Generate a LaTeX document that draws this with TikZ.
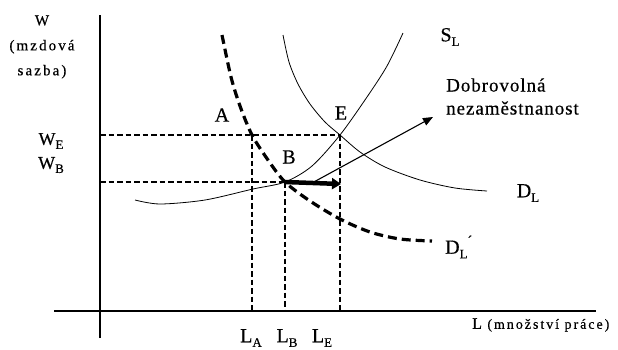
\documentclass[tikz,border=0pt]{standalone}
\usepackage{fontspec}
\setmainfont{Liberation Serif}[FakeBold=0.5]
\newfontfamily\axisfont{Liberation Serif}[LetterSpace=14,FakeBold=0.4]
\newfontfamily\notefont{Liberation Serif}[LetterSpace=5,FakeBold=0.5]
\usetikzlibrary{arrows.meta,positioning}
\newcommand\lsub[1]{\raisebox{-0.5ex}{\fontsize{13}{13}\selectfont #1}}

\begin{document}
\begin{tikzpicture}[
  x=1pt,y=-1pt,
  lbl/.style={inner sep=0pt,font=\fontsize{20}{22}\selectfont},
  wlbl/.style={inner sep=0pt,font=\fontsize{18}{20}\selectfont},
  small/.style={inner sep=0pt,align=center,font=\axisfont\fontsize{15}{25}\selectfont},
  note/.style={inner sep=0pt,anchor=west,font=\notefont\fontsize{19}{21}\selectfont},
  axis/.style={line width=1.4pt},
  guide/.style={line width=1.7pt,dash pattern=on 5.5pt off 3pt},
  curve/.style={line width=0.8pt},
  shifted/.style={line width=3.2pt,dash pattern=on 9pt off 5pt},
  arr/.style={-{Triangle[length=10pt,width=8pt]},line width=1.1pt},
  thickarr/.style={-{Triangle[length=9pt,width=11pt]},line width=4.5pt},
]
\useasboundingbox (0,0) rectangle (618,349);

%% ---- Axes ------------------------------------------------------------------
\coordinate (ytop) at (100,15);
\coordinate (ybot) at (100,338);
\coordinate (xleft) at (54,311);
\coordinate (xright) at (596,311);
\draw[axis] (ybot) -- (ytop);
\draw[axis] (xleft) -- (xright);

%% ---- Points ----------------------------------------------------------------
\coordinate (A) at (252,135);
\coordinate (B) at (285,182);
\coordinate (E) at (340,135);
\coordinate (WE) at (100,135);
\coordinate (WB) at (100,182);
\coordinate (LA) at (252,311);
\coordinate (LB) at (285,311);
\coordinate (LE) at (340,311);

%% ---- Dashed guides ---------------------------------------------------------
\draw[guide] (WE) -- (E);
\draw[guide] (WB) -- (B);
\draw[guide] (A) -- (LA);
\draw[guide] (B) -- (LB);
\draw[guide] (E) -- (LE);

%% ---- Supply S_L ------------------------------------------------------------
\draw[curve] plot[smooth] coordinates {(135,200) (160,204) (205,200) (253,189)
  (B) (312,166) (E) (367,97) (387,66) (403,33)};

%% ---- Demand D_L ------------------------------------------------------------
\draw[curve] plot[smooth] coordinates {(283,35) (289,62) (298,84) (310,104)
  (325,122) (E) (360,152) (385,167) (420,180) (455,188) (487,191)};

%% ---- Shifted demand D_L' ---------------------------------------------------
\draw[shifted] plot[smooth] coordinates {(222,35) (231,77) (240,106) (A)
  (268,160) (B) (310,201) (340,219) (370,232) (400,239) (432,241)};

%% ---- Arrows ----------------------------------------------------------------
\coordinate (Bshift) at (341,184);
\draw[thickarr] (B) -- (Bshift);
\coordinate (vtail) at (312,183);
\coordinate (vhead) at (433,117);
\draw[arr] (vtail) -- (vhead);

%% ---- Labels ----------------------------------------------------------------
\node[small] (wlab) at (42,47) {W\\(mzdová\\sazba)};
\node[wlbl] (welab) at (51,141) {W\lsub{E}};
\node[wlbl] (wblab) at (51,165) {W\lsub{B}};
\node[lbl] (alab) at (222,115) {A};
\node[lbl] (blab) at (289,157) {B};
\node[lbl] (elab) at (341,113) {E};
\node[lbl] (slab) at (450,37) {S\lsub{L}};
\node[lbl] (dlab) at (528,193) {D\lsub{L}};
\node[lbl,anchor=west] (dslab) at (445,247)
  {D\lsub{L}\raisebox{0.9ex}{\fontsize{14}{14}\selectfont ´}};
\node[note] (dobro) at (446,85) {Dobrovolná};
\node[note] (nezam) at (446,108) {nezaměstnanost};
\node[lbl] (lalab) at (251,338) {L\lsub{A}};
\node[lbl] (lblab) at (287,338) {L\lsub{B}};
\node[lbl] (lelab) at (322,338) {L\lsub{E}};
\node[anchor=west,inner sep=0pt,font=\axisfont\fontsize{14}{14}\selectfont] (xlab)
  at (472,325) {{\fontsize{16}{16}\selectfont L} (množství práce)};

\end{tikzpicture}
\end{document}
